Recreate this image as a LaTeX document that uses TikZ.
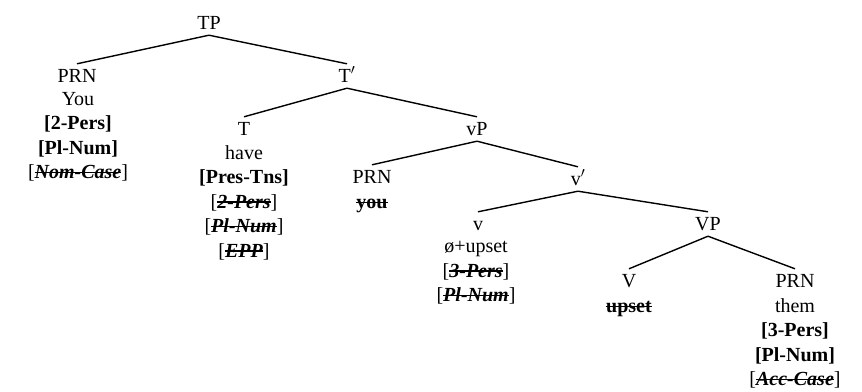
\documentclass[tikz,border=0pt]{standalone}
\usepackage{fontspec}
\setmainfont{Liberation Serif}
\usetikzlibrary{positioning}
\tikzset{cat/.style={inner xsep=0pt,inner ysep=6pt,text height=12pt,text depth=0pt,anchor=base},feat/.style={inner sep=0pt,align=center,anchor=north,yshift=14pt,execute at begin node={\rule{0pt}{14pt}}},branch/.style={line width=1.4pt}}
\newsavebox{\strikebox}
\newcommand{\struck}[1]{\sbox{\strikebox}{#1}\rlap{\usebox{\strikebox}}\rule[0.27em]{\wd\strikebox}{1.2pt}}
\newcommand{\gone}[1]{\struck{\textbf{\textit{#1}}}}

\begin{document}
\begin{tikzpicture} [x=1pt,y=-1pt,font=\fontsize{20}{24.5}\selectfont]
\useasboundingbox (0,0) rectangle (862,391);

\node (tp) at (209,29)[cat]{TP};

\node (prn1) at (77,82)[cat]{PRN};
\node (prn1f) at (78,106)[feat]{You\\ \textbf{[2-Pers]}\\ \textbf{[Pl-Num]}\\ {[}\gone{Nom-Case}{]}};

\node (tbar) at (347,82)[cat]{T$'$};

\node (t) at (244,135)[cat]{T};
\node (tf) at (244,159)[feat]{have\\ \textbf{[Pres-Tns]}\\ {[}\gone{2-Pers}{]}\\ {[}\gone{Pl-Num}{]}\\ {[}\gone{EPP}{]}};

\node (vp) at (477,135)[cat]{vP};

\node (prn2) at (372,183)[cat]{PRN};
\node (prn2f) at (372,208)[feat]{\struck{\textbf{you}}};

\node (vbar) at (578,185)[cat]{v$'$};

\node (v) at (478,230)[cat]{v};
\node (vf) at (476,255)[feat]{ø+upset\\ {[}\gone{3-Pers}{]}\\ {[}\gone{Pl-Num}{]}};

\node (bigvp) at (708,230)[cat]{VP};

\node (bigv) at (629,287)[cat]{V};
\node (bigvf) at (629,312)[feat]{\struck{\textbf{upset}}};

\node (prn3) at (795,287)[cat]{PRN};
\node (prn3f) at (795,312)[feat]{them\\ \textbf{[3-Pers]}\\ \textbf{[Pl-Num]}\\ {[}\gone{Acc-Case}{]}};

\draw[branch] (tp.south) -- (prn1.north);
\draw[branch] (tp.south) -- (tbar.north);
\draw[branch] (tbar.south) -- (t.north);
\draw[branch] (tbar.south) -- (vp.north);
\draw[branch] (vp.south) -- (prn2.north);
\draw[branch] (vp.south) -- (vbar.north);
\draw[branch] (vbar.south) -- (v.north);
\draw[branch] (vbar.south) -- (bigvp.north);
\draw[branch] (bigvp.south) -- (bigv.north);
\draw[branch] (bigvp.south) -- (prn3.north);
\end{tikzpicture}
\end{document}
